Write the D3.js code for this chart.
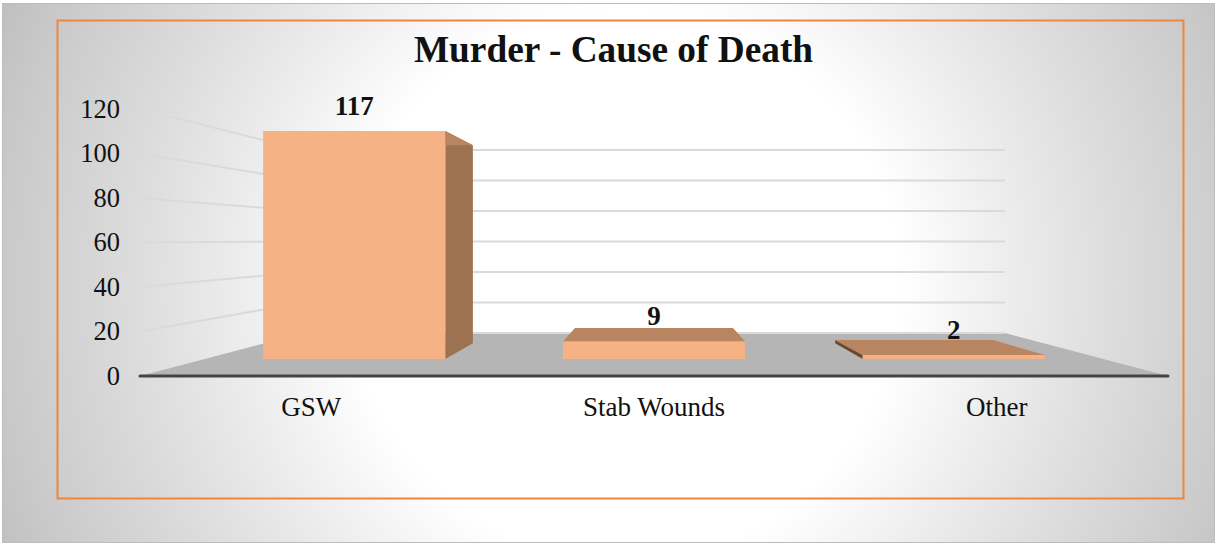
<!DOCTYPE html>
<html><head><meta charset="utf-8"><script src="https://cdn.jsdelivr.net/npm/d3@7"></script>
<style>html,body{margin:0;padding:0;background:#fff}svg{display:block}text{font-family:"Liberation Serif",serif;fill:#111}</style></head>
<body><div id="c"></div>
<script>
const categories = ["GSW", "Stab Wounds", "Other"];
const values = [117, 9, 2];
const yTicks = [0, 20, 40, 60, 80, 100, 120];
const chartTitle = "Murder - Cause of Death";

const W = 1216, H = 544;
const svg = d3.select("#c").append("svg").attr("width", W).attr("height", H);
const defs = svg.append("defs");
const bg = defs.append("radialGradient").attr("id", "bg")
  .attr("gradientUnits", "userSpaceOnUse").attr("cx", 625).attr("cy", 285).attr("r", 685);
[[0, "#fff"], [.4, "#fff"], [.55, "#eeeeee"], [.71, "#dddddd"], [.915, "#c9c9c9"], [1, "#bfbfbf"]]
  .forEach(([o, c]) => bg.append("stop").attr("offset", o).attr("stop-color", c));

svg.append("rect").attr("x", 2.5).attr("y", 3.5).attr("width", 1212).attr("height", 539)
  .attr("fill", "url(#bg)").attr("stroke", "#bdbdbd");
svg.append("rect").attr("x", 57.5).attr("y", 20.5).attr("width", 1126).attr("height", 478)
  .attr("fill", "none").attr("stroke", "#f0853e").attr("stroke-width", 2);

svg.append("text").attr("x", 613.5).attr("y", 62).attr("text-anchor", "middle")
  .attr("font-size", 37.3).attr("font-weight", "bold").attr("fill", "#000").text(chartTitle);

// Perspective floor: depth 0 = front edge, 1 = back wall
const baseY = d3.scaleLinear().domain([0, 1]).range([376, 333]);
const unitH = d3.scaleLinear().domain([0, 1]).range([267 / 120, 183 / 120]);
const leftX = d3.scaleLinear().domain([0, 1]).range([140, 303]);
const rightX = d3.scaleLinear().domain([0, 1]).range([1168, 1005]);
const band = d3.scaleBand().domain(categories).range([0, 1]).paddingInner(.3925).paddingOuter(.196);
const px = (u, d) => leftX(d) + u * (rightX(d) - leftX(d));
const py = (v, d) => baseY(d) - v * unitH(d);
const yFront = d3.scaleLinear().domain([0, 120]).range([py(0, 0), py(120, 0)]);
const D0 = .395, D1 = .76;
const poly = pts => pts.map(p => p.join(",")).join(" ");

// Floor
svg.append("polygon").attr("fill", "#b5b5b5")
  .attr("points", poly([[px(0, 0), py(0, 0)], [px(0, 1), py(0, 1)], [px(1, 1), py(0, 1)], [px(1, 0), py(0, 0)]]));

// Gridlines: side wall + back wall
const grid = svg.append("g").attr("fill", "none").attr("stroke", "#dadada").attr("stroke-width", 2);
yTicks.forEach(t => {
  const pts = t === 0
    ? [[px(0, 1), py(0, 1)], [px(1, 1), py(0, 1)]]
    : [[px(0, 0), py(t, 0)], [px(0, 1), py(t, 1)], [px(1, 1), py(t, 1)]];
  grid.append("polyline").attr("points", poly(pts));
});

// Bars
categories.forEach((c, i) => {
  const v = values[i], a = band(c), b = a + band.bandwidth();
  const g = svg.append("g");
  if (px(b, D1) > px(b, D0))
    g.append("polygon").attr("fill", "#9c7250").attr("points", poly([[px(b, D0), py(v, D0)], [px(b, D1), py(v, D1)], [px(b, D1), py(0, D1)], [px(b, D0), py(0, D0)]]));
  if (px(a, D1) < px(a, D0))
    g.append("polygon").attr("fill", "#6b4a32").attr("points", poly([[px(a, D0), py(v, D0)], [px(a, D1), py(v, D1)], [px(a, D1), py(0, D1)], [px(a, D0), py(0, D0)]]));
  g.append("polygon").attr("fill", "#b98460").attr("points", poly([[px(a, D0), py(v, D0)], [px(a, D1), py(v, D1)], [px(b, D1), py(v, D1)], [px(b, D0), py(v, D0)]]));
  g.append("polygon").attr("fill", "#f5b285").attr("points", poly([[px(a, D0), py(v, D0)], [px(b, D0), py(v, D0)], [px(b, D0), py(0, D0)], [px(a, D0), py(0, D0)]]));
  svg.append("text").attr("x", px((a + b) / 2, D0)).attr("y", py(v, D0) - 16)
    .attr("text-anchor", "middle").attr("font-size", 27).attr("font-weight", "bold").attr("fill", "#000").text(v);
  svg.append("text").attr("x", px((a + b) / 2, 0)).attr("y", 416)
    .attr("text-anchor", "middle").attr("font-size", 27).text(c);
});

// Axis baseline
svg.append("line").attr("x1", px(0, 0)).attr("x2", px(1, 0)).attr("y1", 376).attr("y2", 376)
  .attr("stroke", "#444").attr("stroke-width", 3).attr("stroke-linecap", "round");

// Value axis labels
const ax = svg.append("g").attr("transform", "translate(120,0)")
  .call(d3.axisLeft(yFront).tickValues(yTicks).tickSize(0).tickPadding(0));
ax.select(".domain").remove();
ax.selectAll("text").attr("font-size", 26.5).attr("font-family", '"Liberation Serif",serif');
</script></body></html>
